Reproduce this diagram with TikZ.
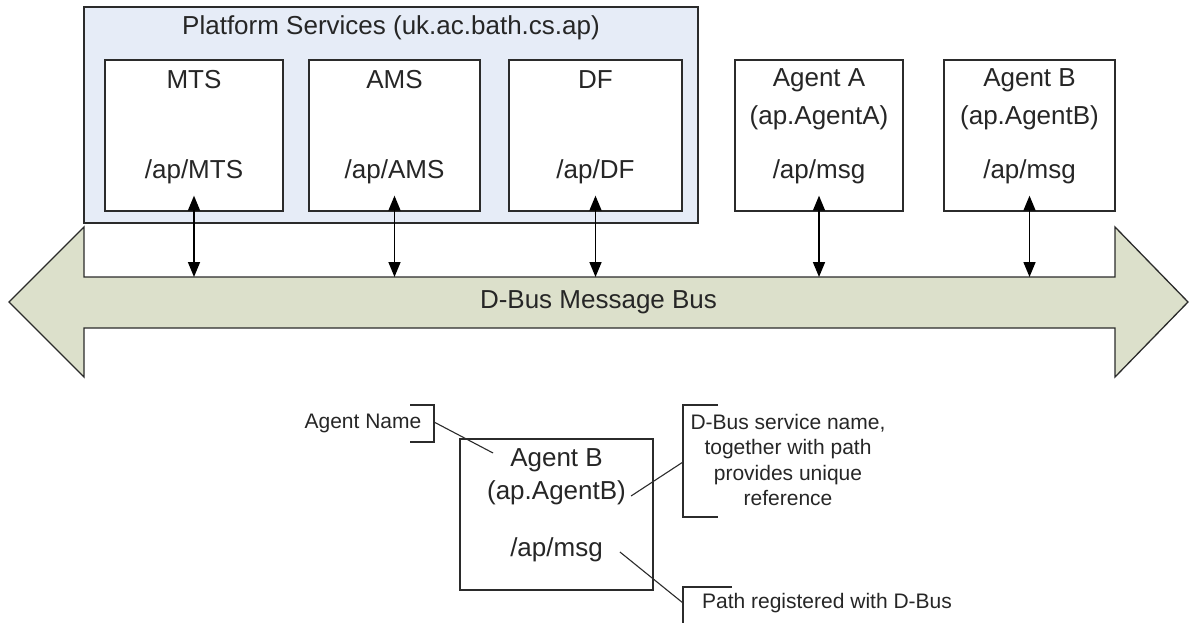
\documentclass[tikz,border=0pt]{standalone}
\usepackage{fontspec}
\setmainfont{Liberation Sans}
\usetikzlibrary{arrows.meta, calc, positioning}
\definecolor{busFill}{HTML}{DCE0CB}
\definecolor{platFill}{HTML}{E6ECF7}
\definecolor{lineGrey}{HTML}{2B2B2B}
\definecolor{txtGrey}{HTML}{262626}
\tikzset{
  busshape/.style  = {fill=busFill, draw=lineGrey, line width=1.3pt, line join=miter},
  platform/.style  = {fill=platFill, draw=lineGrey, line width=1.3pt, inner sep=0pt},
  compbox/.style   = {draw=lineGrey, fill=white, line width=1.3pt, inner sep=0pt,
                      minimum height=151pt},
  lbl/.style       = {font=\fontsize{26}{30}\selectfont, text=txtGrey, inner sep=0pt},
  note/.style      = {font=\fontsize{21}{25.5}\selectfont, text=txtGrey, align=center,
                      inner sep=0pt},
  busarrow/.style  = {{Triangle[length=15pt,width=12pt]}-{Triangle[length=15pt,width=12pt]},
                      line width=1.6pt, black},
  callout/.style   = {draw=lineGrey, line width=1.1pt},
}

\begin{document}
\begin{tikzpicture}[x=1pt,y=1pt]
  \useasboundingbox (0,0) rectangle (1190,-623);

  % message bus
  \draw[busshape] (9,-302) -- (84,-227) -- (84,-277) -- (1115,-277) -- (1115,-227)
    -- (1188,-302) -- (1115,-377) -- (1115,-328) -- (84,-328) -- (84,-377) -- cycle;
  \coordinate (bustop) at (0,-277);
  \node[lbl] (busname) at (598.5,-302) {D-Bus Message Bus};

  % platform services
  \node[platform, minimum width=614pt, minimum height=216pt] (plat) at (391,-115) {};
  \node[lbl] (plattitle) at (391,-28) {Platform Services (uk.ac.bath.cs.ap)};

  \node[compbox, minimum width=178pt] (mts) at (194,-135.5) {};
  \node[lbl] (mtsname) at (194,-80) {MTS};
  \node[lbl] (mtspath) at (194,-172) {/ap/MTS};

  \node[compbox, minimum width=171pt] (ams) at (394.5,-135.5) {};
  \node[lbl] (amsname) at (394.5,-80) {AMS};
  \node[lbl] (amspath) at (394.5,-172) {/ap/AMS};

  \node[compbox, minimum width=173pt] (df) at (595.5,-135.5) {};
  \node[lbl] (dfname) at (595.5,-80) {DF};
  \node[lbl] (dfpath) at (595.5,-172) {/ap/DF};

  % agents
  \node[compbox, minimum width=168pt] (agA) at (819,-135.5) {};
  \node[lbl] (agAname) at (819,-80) {Agent A};
  \node[lbl] (agAsvc) at (819,-118) {(ap.AgentA)};
  \node[lbl] (agApath) at (819,-172) {/ap/msg};

  \node[compbox, minimum width=171pt] (agB) at (1029.5,-135.5) {};
  \node[lbl] (agBname) at (1029.5,-80) {Agent B};
  \node[lbl] (agBsvc) at (1029.5,-118) {(ap.AgentB)};
  \node[lbl] (agBpath) at (1029.5,-172) {/ap/msg};

  % links to the bus
  \draw[busarrow] ([yshift=16pt]mts.south) -- (mts.south |- bustop);
  \draw[busarrow] ([yshift=16pt]ams.south) -- (ams.south |- bustop);
  \draw[busarrow] ([yshift=16pt]df.south) -- (df.south |- bustop);
  \draw[busarrow] ([yshift=16pt]agA.south) -- (agA.south |- bustop);
  \draw[busarrow] ([yshift=16pt]agB.south) -- (agB.south |- bustop);

  % annotated agent
  \node[compbox, minimum width=193pt] (det) at (556.5,-514.5) {};
  \node[lbl] (detname) at (556.5,-460) {Agent B};
  \node[lbl] (detsvc) at (556.5,-493) {(ap.AgentB)};
  \node[lbl] (detpath) at (556.5,-550) {/ap/msg};

  \node[note] (annname) at (363,-423) {Agent Name};
  \draw[callout] (410,-405) -- (434,-405) -- (434,-442) -- (410,-442);
  \coordinate (namebr) at (434,-422);
  \draw[callout] (namebr) -- ($(detname.west)+(-17,7)$);

  \node[note] (annsvc) at (788,-460) {D-Bus service name,\\ together with path\\ provides unique\\ reference};
  \draw[callout] (718,-405) -- (683,-405) -- (683,-517) -- (718,-517);
  \coordinate (svcbr) at (683,-462);
  \draw[callout] (svcbr) -- ($(detsvc.east)+(5,-3)$);

  \node[note] (annpath) at (827,-603) {Path registered with D-Bus};
  \draw[callout] (732,-587) -- (683,-587) -- (683,-630) -- (732,-630);
  \coordinate (pathbr) at (683,-603);
  \draw[callout] ($(detpath.east)+(17,-2)$) -- (pathbr);
\end{tikzpicture}
\end{document}
